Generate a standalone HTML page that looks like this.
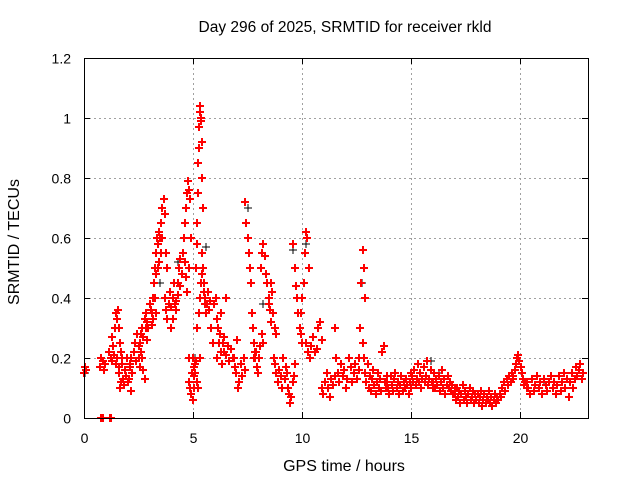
<!DOCTYPE html>
<html><head><meta charset="utf-8"><style>
html,body{margin:0;padding:0;background:#fff;}
svg{display:block;font-family:"Liberation Sans",sans-serif;}
</style></head><body>
<svg id="chart" width="640" height="480" viewBox="0 0 640 480">
<rect width="640" height="480" fill="#fff"/>
<text x="345" y="32" font-size="15.5" text-anchor="middle">Day 296 of 2025, SRMTID for receiver rkld</text>
<g id="grid"></g>
<g id="ticks"></g>
<path id="blackMarks" stroke="#000" stroke-width="1" fill="none" shape-rendering="crispEdges"/>
<path id="redMarks" stroke="#ff0000" stroke-width="1.6" fill="none" shape-rendering="crispEdges"/>
<rect x="84.5" y="58.5" width="504" height="360" fill="none" stroke="#000" stroke-width="1"/>
<text x="344" y="471" font-size="16" text-anchor="middle">GPS time / hours</text>
<text x="19" y="242" font-size="16" text-anchor="middle" transform="rotate(-90 19 242)">SRMTID / TECUs</text>
</svg>
<script>
const xTicks = [0, 5, 10, 15, 20];
const yTicks = [0, 0.2, 0.4, 0.6, 0.8, 1, 1.2];
const yTickLabels = ["0", "0.2", "0.4", "0.6", "0.8", "1", "1.2"];
const trackStart = [0.0,0.75,1.3,1.15,1.6,2.1,2.5,3.1,3.3,3.7,4.0,4.3,4.6,4.8,5.0,5.15,5.2,5.4,5.9,6.1,6.9,7.4,7.8,8.1,8.5,8.7,9.3,9.6,9.9,10.2,10.9,11.5,12.6,12.8,13.9,15.0,16.0,17.0,18.0,19.0,19.7,20.3,21.5,22.3];
const trackEnd   = [0.1,0.95,1.75,1.6,2.2,2.9,3.3,3.8,3.6,4.2,4.4,4.8,4.9,5.1,5.3,5.45,5.6,5.9,6.5,7.0,7.4,7.9,8.2,8.6,8.8,9.4,9.7,10.0,10.3,10.9,11.5,12.6,12.9,13.9,15.0,16.0,17.0,18.0,19.0,19.7,20.3,21.5,22.3,22.9];
const trackValues = [
[0.15,0.17,0.16],
[0.17,0.2,0.19,0.16,0.18],
[0.27,0.24,0.3,0.35,0.33,0.36,0.3,0.25,0.22,0.2],
[0.22,0.2,0.19,0.21,0.18,0.2,0.17],
[0.15,0.1,0.12,0.18,0.13,0.11,0.16,0.14,0.2,0.12,0.13,0.17,0.09,0.15],
[0.18,0.2,0.15,0.22,0.25,0.19,0.28,0.24,0.17,0.22,0.2,0.16,0.13,0.3,0.26],
[0.2,0.25,0.28,0.3,0.27,0.33,0.35,0.32,0.3,0.38,0.36,0.31,0.33,0.4,0.35],
[0.35,0.4,0.45,0.5,0.55,0.6,0.58,0.62,0.6,0.65,0.7,0.73,0.68,0.55,0.5],
[0.48,0.5,0.52,0.55,0.6],
[0.4,0.36,0.33,0.38,0.42,0.37,0.4,0.45,0.39],
[0.3,0.33,0.38,0.36,0.41,0.44],
[0.45,0.5,0.53,0.48,0.55,0.52,0.47,0.42,0.5],
[0.6,0.65,0.7,0.75,0.79,0.76,0.73,0.6],
[0.2,0.12,0.1,0.08,0.15,0.06,0.1,0.14,0.18],
[0.2,0.17,0.15,0.19,0.12,0.1,0.2],
[0.5,0.58,0.65,0.75,0.85,0.9,0.97,1.02,1.04,1.0,0.99,0.92,0.8,0.7],
[0.3,0.35,0.4,0.45,0.48,0.42,0.38,0.35],
[0.55,0.5,0.45,0.4,0.38,0.42,0.36,0.39,0.3,0.25],
[0.25,0.38,0.4,0.33,0.3,0.28,0.35,0.25,0.22,0.4],
[0.2,0.25,0.22,0.18,0.27,0.21,0.24,0.19,0.23,0.2,0.17,0.26],
[0.2,0.15,0.1,0.12,0.18,0.14,0.2,0.16],
[0.72,0.65,0.6,0.55,0.5,0.45,0.35,0.3,0.25,0.2,0.22],
[0.2,0.22,0.17,0.15,0.2,0.24,0.28,0.25],
[0.5,0.55,0.58,0.54,0.48,0.45,0.4,0.36,0.32],
[0.38,0.45,0.42,0.35,0.3,0.28],
[0.2,0.18,0.15,0.12,0.16,0.14,0.1,0.2,0.13,0.17,0.1,0.08],
[0.15,0.1,0.05,0.07,0.12,0.14,0.18],
[0.58,0.5,0.44,0.4,0.35,0.3,0.28,0.25],
[0.3,0.35,0.4,0.45,0.55,0.62,0.6,0.5],
[0.25,0.22,0.2,0.24,0.27,0.22,0.23,0.3,0.32,0.26],
[0.1,0.08,0.12,0.15,0.1,0.07,0.13,0.11,0.14],
[0.3,0.2,0.15,0.12,0.18,0.14,0.16,0.1,0.13,0.2,0.17,0.12,0.15,0.18,0.13,0.16],
[0.2,0.3,0.45,0.56,0.5,0.4],
[0.25,0.2,0.15,0.12,0.18,0.1,0.14,0.09,0.13,0.16,0.11,0.08,0.12,0.15,0.1,0.13,0.09,0.22,0.24,0.12,0.1,0.14],
[0.12,0.1,0.08,0.14,0.11,0.09,0.13,0.15,0.1,0.12,0.08,0.11,0.14,0.09,0.12,0.1,0.13,0.11,0.08,0.12,0.15],
[0.1,0.14,0.12,0.16,0.11,0.13,0.18,0.12,0.15,0.1,0.13,0.17,0.12,0.14,0.19,0.11,0.13,0.16,0.12,0.1],
[0.12,0.15,0.1,0.13,0.11,0.14,0.09,0.12,0.16,0.1,0.13,0.08,0.11,0.14,0.1,0.12,0.09,0.11,0.08,0.1],
[0.08,0.06,0.1,0.07,0.09,0.05,0.08,0.11,0.06,0.09,0.07,0.05,0.08,0.1,0.06,0.07,0.09,0.05,0.08,0.06],
[0.06,0.08,0.05,0.07,0.09,0.04,0.06,0.08,0.05,0.07,0.06,0.09,0.05,0.07,0.04,0.06,0.08,0.05,0.07,0.06],
[0.06,0.08,0.07,0.1,0.12,0.09,0.13,0.11,0.14,0.12,0.15,0.13],
[0.14,0.16,0.18,0.2,0.21,0.19,0.17,0.15,0.13,0.11,0.12,0.1],
[0.12,0.1,0.08,0.13,0.09,0.11,0.14,0.1,0.12,0.08,0.13,0.11,0.09,0.12,0.14,0.1],
[0.1,0.12,0.08,0.11,0.14,0.09,0.12,0.15,0.1,0.13,0.07,0.12],
[0.12,0.15,0.1,0.13,0.17,0.14,0.16,0.18,0.13,0.15]
];
const zeroTimes = [0.8, 0.85, 1.2, 1.25];
const zeroValues = [0, 0, 0, 0];
const blackTimes = [0.05, 3.5, 4.3, 5.1, 5.6, 7.5, 8.2, 9.6, 10.2, 12.8, 12.75, 15.9, 16.3, 19.8, 21.1];
const blackValues = [0.15, 0.45, 0.52, 0.2, 0.57, 0.7, 0.38, 0.56, 0.58, 0.56, 0.45, 0.19, 0.15, 0.18, 0.12];

const X0 = 84, PXH = 21.8, Y0 = 418, PXV = 300;
function xs(h){ return X0 + PXH*h; }
function ys(v){ return Y0 - PXV*v; }
const NS = "http://www.w3.org/2000/svg";
const grid = document.getElementById('grid');
const ticks = document.getElementById('ticks');
xTicks.forEach(function(t){
  const x = Math.round(xs(t)) + 0.5;
  if (t > 0) {
    const l = document.createElementNS(NS,'line');
    l.setAttribute('x1',x); l.setAttribute('x2',x); l.setAttribute('y1',58); l.setAttribute('y2',418);
    l.setAttribute('stroke','#a0a0a0'); l.setAttribute('stroke-dasharray','2,3');
    
    
    grid.appendChild(l);
  }
  const tk = document.createElementNS(NS,'path');
  tk.setAttribute('d','M'+x+' 418v-6M'+x+' 58v6'); tk.setAttribute('stroke','#000');
  
  
  ticks.appendChild(tk);
  const tx = document.createElementNS(NS,'text');
  tx.setAttribute('x',x); tx.setAttribute('y',443); tx.setAttribute('font-size','14'); tx.setAttribute('text-anchor','middle');
  tx.textContent = String(t);
  
  
  ticks.appendChild(tx);
});
yTicks.forEach(function(v,i){
  const y = Math.round(ys(v)) + 0.5;
  if (v > 0 && v < 1.2) {
    const l = document.createElementNS(NS,'line');
    l.setAttribute('x1',84); l.setAttribute('x2',588); l.setAttribute('y1',y); l.setAttribute('y2',y);
    l.setAttribute('stroke','#a0a0a0'); l.setAttribute('stroke-dasharray','2,3');
    
    
    grid.appendChild(l);
  }
  const tk = document.createElementNS(NS,'path');
  tk.setAttribute('d','M84 '+y+'h6M588 '+y+'h-6'); tk.setAttribute('stroke','#000');
  
  
  ticks.appendChild(tk);
  const tx = document.createElementNS(NS,'text');
  tx.setAttribute('x',71); tx.setAttribute('y',y+5); tx.setAttribute('font-size','14'); tx.setAttribute('text-anchor','end');
  tx.textContent = yTickLabels[i];
  
  
  ticks.appendChild(tx);
});
function plus(h,v){ const x=Math.round(xs(h)), y=Math.round(ys(v)); return 'M'+(x-4)+' '+y+'h8M'+x+' '+(y-4)+'v8'; }
let red = '';
trackValues.forEach(function(vals,i){
  const n = vals.length, a = trackStart[i], b = trackEnd[i];
  vals.forEach(function(v,j){
    const h = n>1 ? a + (b-a)*j/(n-1) : a;
    red += plus(h,v);
  });
});
zeroTimes.forEach(function(h,i){ red += plus(h, zeroValues[i]); });
document.getElementById('redMarks').setAttribute('d', red);
let blk = '';
blackTimes.forEach(function(h,i){ blk += plus(h, blackValues[i]); });
document.getElementById('blackMarks').setAttribute('d', blk);
</script>
</body></html>
